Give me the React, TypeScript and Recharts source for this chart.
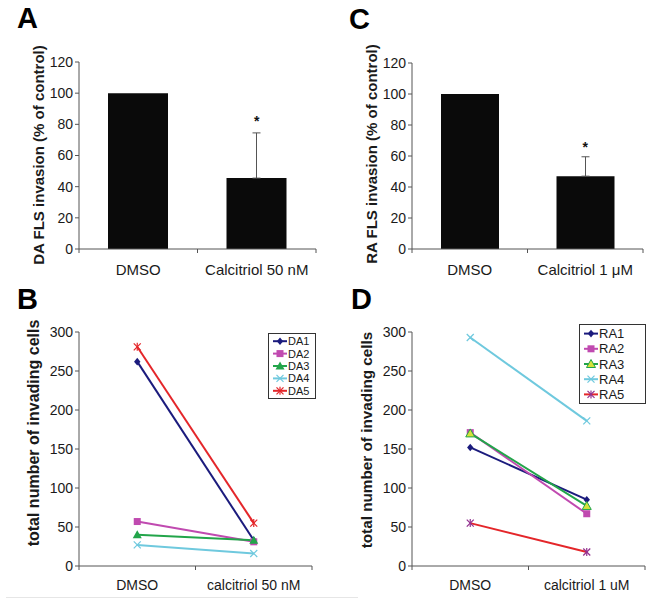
import React from 'react'
import { ComposedChart, Bar, ErrorBar, Scatter, Line, XAxis, YAxis } from 'recharts'

const FONT = "'Liberation Sans', Arial, Helvetica, sans-serif"
const AXIS = '#555'
const INK = '#1a1a1a'

// A: DA FLS invasion
const catsA = ['DMSO', 'Calcitriol 50 nM']
const valsA = [100, 45.5]
const errsA: (number[] | null)[] = [null, [0, 29]]
const starA: (number | null)[] = [null, 83.5]

// C: RA FLS invasion
const catsC = ['DMSO', 'Calcitriol 1 \u03bcM']
const valsC = [100, 47]
const errsC: (number[] | null)[] = [null, [0, 12.5]]
const starC: (number | null)[] = [null, 67]

const pctTicks = [0, 20, 40, 60, 80, 100, 120]
const cellTicks = [0, 50, 100, 150, 200, 250, 300]

// B: DA donors
const catsB = ['DMSO', 'calcitriol 50 nM']
const namesB = ['DA1', 'DA2', 'DA3', 'DA4', 'DA5']
const da1 = [262, 33]
const da2 = [57, 31]
const da3 = [40, 33]
const da4 = [27, 16]
const da5 = [281, 55]

// D: RA donors
const catsD = ['DMSO', 'calcitriol 1 uM']
const namesD = ['RA1', 'RA2', 'RA3', 'RA4', 'RA5']
const ra1 = [152, 85]
const ra2 = [171, 67]
const ra3 = [170, 77]
const ra4 = [293, 186]
const ra5 = [55, 18]

type Shape = 'diamond' | 'square' | 'triangle' | 'cross' | 'star'
type Style = { color: string; shape: Shape; markerColor?: string; fill?: string }

const stylesB: Style[] = [
  { color: '#1b1b7d', shape: 'diamond' },
  { color: '#c04ab0', shape: 'square' },
  { color: '#22a54a', shape: 'triangle' },
  { color: '#6fc9de', shape: 'cross' },
  { color: '#e4262a', shape: 'star' },
]
const stylesD: Style[] = [
  { color: '#1b1b7d', shape: 'diamond' },
  { color: '#c04ab0', shape: 'square' },
  { color: '#22a54a', shape: 'triangle', fill: '#d6e23a' },
  { color: '#6fc9de', shape: 'cross' },
  { color: '#e4262a', shape: 'star', markerColor: '#93308f' },
]

function Marker({ shape, x, y, color, fill }: { shape: Shape; x: number; y: number; color: string; fill?: string }) {
  if (x == null || y == null || isNaN(x) || isNaN(y)) return <g />
  switch (shape) {
    case 'diamond':
      return <polygon points={`${x},${y - 3.8} ${x + 3.2},${y} ${x},${y + 3.8} ${x - 3.2},${y}`} fill={color} />
    case 'square':
      return <rect x={x - 3.5} y={y - 3.5} width={7} height={7} fill={color} />
    case 'triangle':
      return (
        <polygon
          points={`${x},${y - 4.5} ${x + 4.5},${y + 3.5} ${x - 4.5},${y + 3.5}`}
          fill={fill ?? color}
          stroke={fill ? color : 'none'}
          strokeWidth={1}
        />
      )
    case 'cross':
      return (
        <g stroke={color} strokeWidth={1.2}>
          <line x1={x - 3.5} y1={y - 3.5} x2={x + 3.5} y2={y + 3.5} />
          <line x1={x - 3.5} y1={y + 3.5} x2={x + 3.5} y2={y - 3.5} />
        </g>
      )
    default:
      return (
        <g stroke={color} strokeWidth={1.2}>
          <line x1={x - 3.5} y1={y - 3.5} x2={x + 3.5} y2={y + 3.5} />
          <line x1={x - 3.5} y1={y + 3.5} x2={x + 3.5} y2={y - 3.5} />
          <line x1={x} y1={y - 4} x2={x} y2={y + 4} />
        </g>
      )
  }
}

// category tick: label at band centre, tick marks at the band edges (Excel style)
function makeCatTick(bandWidth: number, fontSize: number, dy: number) {
  return (props: any) => {
    const { x, y, payload, index } = props
    const half = bandWidth / 2
    return (
      <g>
        {index === 0 && <line x1={x - half} x2={x - half} y1={y} y2={y + 4} stroke={AXIS} />}
        <line x1={x + half} x2={x + half} y1={y} y2={y + 4} stroke={AXIS} />
        <text x={x} y={y + dy} textAnchor="middle" fontSize={fontSize} fill={INK} fontFamily={FONT}>
          {payload.value}
        </text>
      </g>
    )
  }
}

const starShape = (props: any) => {
  if (props.payload?.star == null) return <g />
  return (
    <text x={props.cx} y={props.cy + 7} textAnchor="middle" fontSize={14} fontWeight="bold" fill="#111" fontFamily={FONT}>
      *
    </text>
  )
}

type BarPanelProps = {
  cats: string[]
  vals: number[]
  errs: (number[] | null)[]
  stars: (number | null)[]
  left: number
  margin: { top: number; right: number; bottom: number }
  barSize: number
}

function BarPanel({ cats, vals, errs, stars, left, margin, barSize }: BarPanelProps) {
  const data = cats.map((c, i) => ({ name: c, value: vals[i], err: errs[i], star: stars[i] }))
  const plotW = 333 - 79 - margin.right
  return (
    <div style={{ position: 'absolute', left, top: 0 }}>
      <ComposedChart width={333} height={300} data={data} margin={{ ...margin, left: 0 }}>
        <XAxis
          dataKey="name"
          height={30}
          tickSize={0}
          tickMargin={0}
          tickLine={false}
          axisLine={{ stroke: AXIS }}
          tick={makeCatTick(plotW / 2, 15, 26)}
          interval={0}
        />
        <YAxis
          width={79}
          domain={[0, 120]}
          ticks={pctTicks}
          tickSize={4}
          tickMargin={2}
          axisLine={{ stroke: AXIS }}
          tickLine={{ stroke: AXIS }}
          tick={{ fontSize: 14, fill: INK, fontFamily: FONT }}
        />
        <Bar dataKey="value" fill="#0a0a0a" barSize={barSize} isAnimationActive={false}>
          <ErrorBar dataKey="err" width={4} stroke="#555" strokeWidth={1} direction="y" />
        </Bar>
        <Scatter dataKey="star" shape={starShape} isAnimationActive={false} />
      </ComposedChart>
    </div>
  )
}

type LinePanelProps = {
  cats: string[]
  names: string[]
  series: number[][]
  styles: Style[]
  left: number
}

function LinePanel({ cats, names, series, styles, left }: LinePanelProps) {
  const data = cats.map((c, i) => {
    const row: Record<string, string | number> = { name: c }
    names.forEach((n, k) => (row[n] = series[k][i]))
    return row
  })
  const plotW = 333 - 79 - 21
  const band = plotW / 2
  return (
    <div style={{ position: 'absolute', left, top: 300 }}>
      <ComposedChart width={333} height={314} data={data} margin={{ top: 32, right: 21, bottom: 18, left: 0 }}>
        <XAxis
          dataKey="name"
          height={30}
          scale="point"
          padding={{ left: band / 2, right: band / 2 }}
          tickSize={0}
          tickMargin={0}
          tickLine={false}
          axisLine={{ stroke: AXIS }}
          tick={makeCatTick(band, 14, 24)}
          interval={0}
        />
        <YAxis
          width={79}
          domain={[0, 300]}
          ticks={cellTicks}
          tickSize={4}
          tickMargin={2}
          axisLine={{ stroke: AXIS }}
          tickLine={{ stroke: AXIS }}
          tick={{ fontSize: 14, fill: INK, fontFamily: FONT }}
        />
        {names.map((n, k) => {
          const s = styles[k]
          return (
            <Line
              key={n}
              dataKey={n}
              stroke={s.color}
              strokeWidth={2}
              isAnimationActive={false}
              dot={(p: any) => (
                <Marker key={`${n}-${p.index}`} shape={s.shape} x={p.cx} y={p.cy} color={s.markerColor ?? s.color} fill={s.fill} />
              )}
            />
          )
        })}
      </ComposedChart>
    </div>
  )
}

function LegendBox({ names, styles, left, top, width, rowH, fontSize }: {
  names: string[]; styles: Style[]; left: number; top: number; width: number; rowH: number; fontSize: number
}) {
  const h = names.length * rowH + 4
  return (
    <svg style={{ position: 'absolute', left, top }} width={width} height={h}>
      <rect x={0.5} y={0.5} width={width - 1} height={h - 1} fill="#fff" stroke="#333" />
      {names.map((n, k) => {
        const s = styles[k]
        const cy = 2 + rowH * k + rowH / 2
        return (
          <g key={n}>
            <line x1={5} x2={19} y1={cy} y2={cy} stroke={s.color} strokeWidth={2} />
            <Marker shape={s.shape} x={12} y={cy} color={s.markerColor ?? s.color} fill={s.fill} />
            <text x={20} y={cy + fontSize * 0.36} fontSize={fontSize} fill={INK} fontFamily={FONT}>
              {n}
            </text>
          </g>
        )
      })}
    </svg>
  )
}

function AxisTitle({ text, cx, cy, size }: { text: string; cx: number; cy: number; size: number }) {
  return (
    <div
      style={{
        position: 'absolute',
        left: cx,
        top: cy,
        transform: 'translate(-50%, -50%) rotate(-90deg)',
        whiteSpace: 'nowrap',
        fontFamily: FONT,
        fontWeight: 'bold',
        fontSize: size,
        color: INK,
        lineHeight: 1,
      }}
    >
      {text}
    </div>
  )
}

function PanelLetter({ ch, x, baseline }: { ch: string; x: number; baseline: number }) {
  return (
    <div
      style={{
        position: 'absolute',
        left: x,
        top: baseline - 27,
        fontFamily: FONT,
        fontWeight: 'bold',
        fontSize: 29,
        lineHeight: '29px',
        color: '#000',
      }}
    >
      {ch}
    </div>
  )
}

export default function App() {
  return (
    <div style={{ position: 'absolute', left: 0, top: 0, width: 666, height: 614, background: '#fff', overflow: 'hidden' }}>
      <BarPanel cats={catsA} vals={valsA} errs={errsA} stars={starA} left={0} margin={{ top: 62, right: 17, bottom: 21 }} barSize={60} />
      <BarPanel cats={catsC} vals={valsC} errs={errsC} stars={starC} left={333} margin={{ top: 63, right: 23, bottom: 21 }} barSize={58} />
      <LinePanel cats={catsB} names={namesB} series={[da1, da2, da3, da4, da5]} styles={stylesB} left={0} />
      <LinePanel cats={catsD} names={namesD} series={[ra1, ra2, ra3, ra4, ra5]} styles={stylesD} left={333} />

      <LegendBox names={namesB} styles={stylesB} left={268} top={333} width={48} rowH={12.4} fontSize={11} />
      <LegendBox names={namesD} styles={stylesD} left={579} top={324} width={67} rowH={15.2} fontSize={13} />

      <AxisTitle text="DA FLS invasion (% of control)" cx={38} cy={155} size={15} />
      <AxisTitle text="RA FLS invasion (% of control)" cx={371} cy={154} size={15} />
      <AxisTitle text="total number of invading cells" cx={34} cy={433} size={16} />
      <AxisTitle text="total number of invading cells" cx={367} cy={440} size={15.3} />

      <PanelLetter ch="A" x={17} baseline={31} />
      <PanelLetter ch="C" x={349} baseline={32} />
      <PanelLetter ch="B" x={17} baseline={312} />
      <PanelLetter ch="D" x={351} baseline={312} />

      <div style={{ position: 'absolute', left: 6, top: 597, width: 352, height: 1, background: '#e6e6e6' }} />
    </div>
  )
}
